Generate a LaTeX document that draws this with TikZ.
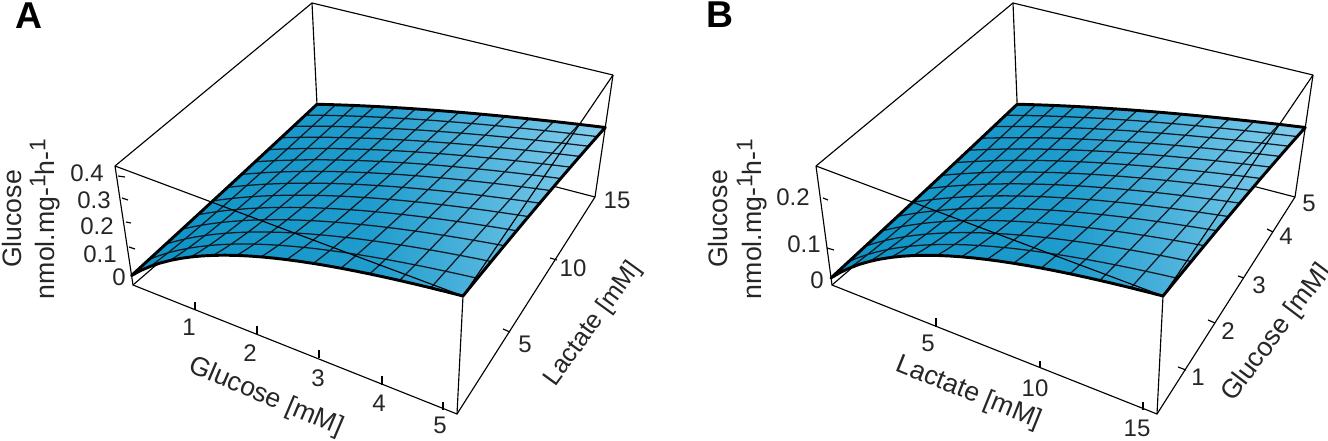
\documentclass[tikz,border=0pt]{standalone}
\usepackage{fontspec}
\setmainfont{Liberation Sans}
\definecolor{sfL}{HTML}{0C93C6}
\definecolor{sfM}{HTML}{1F9CCD}
\definecolor{sfR}{HTML}{86CFEE}
\definecolor{gridc}{HTML}{101A22}
\newcommand\sethom[9]{%
 \edef\hsx{\fpeval{#2-#4+#6-#8}}\edef\hsy{\fpeval{#3-#5+#7-#9}}%
 \edef\hdxa{\fpeval{#4-#6}}\edef\hdxb{\fpeval{#8-#6}}%
 \edef\hdya{\fpeval{#5-#7}}\edef\hdyb{\fpeval{#9-#7}}%
 \edef\hdet{\fpeval{\hdxa*\hdyb-\hdxb*\hdya}}%
 \edef\hg{\fpeval{(\hsx*\hdyb-\hdxb*\hsy)/\hdet}}%
 \edef\hh{\fpeval{(\hdxa*\hsy-\hsx*\hdya)/\hdet}}%
 \expandafter\edef\csname #1g\endcsname{\hg}%
 \expandafter\edef\csname #1h\endcsname{\hh}%
 \expandafter\edef\csname #1a\endcsname{\fpeval{#4-#2+\hg*#4}}%
 \expandafter\edef\csname #1b\endcsname{\fpeval{#8-#2+\hh*#8}}%
 \expandafter\edef\csname #1c\endcsname{#2}%
 \expandafter\edef\csname #1d\endcsname{\fpeval{#5-#3+\hg*#5}}%
 \expandafter\edef\csname #1e\endcsname{\fpeval{#9-#3+\hh*#9}}%
 \expandafter\edef\csname #1f\endcsname{#3}%
}
\newcommand\calcpt[2]{%
 \edef\uu{#1}\edef\vv{#2}%
 \edef\KK{\fpeval{\Kzero+\Klin*\vv+\Kone*\vv*\vv}}%
 \edef\zlo{\fpeval{\zA+\zB*\vv}}%
 \edef\zhi{\fpeval{1-\zC*\vv}}%
 \edef\ff{\fpeval{\uu*(1+\KK)/(\uu+\KK)}}%
 \edef\zz{\fpeval{\zlo+(\zhi-\zlo)*\ff}}%
 \edef\wg{\fpeval{\Gg*\uu+\Gh*\vv+1}}%
 \edef\wt{\fpeval{\Tg*\uu+\Th*\vv+1}}%
 \edef\ptx{\fpeval{round((1-\zz)*(\Ga*\uu+\Gb*\vv+\Gc)/\wg+\zz*(\Ta*\uu+\Tb*\vv+\Tc)/\wt,2)}}%
 \edef\pty{\fpeval{round((1-\zz)*(\Gd*\uu+\Ge*\vv+\Gf)/\wg+\zz*(\Td*\uu+\Te*\vv+\Tf)/\wt,2)}}%
}
\newcommand\addpt[2]{\calcpt{#1}{#2}\xdef\thepath{\thepath\thesep(\ptx,\pty)}\gdef\thesep{ -- }}
\newcommand\startpath{\gdef\thepath{}\gdef\thesep{}}
\newcommand\drawsurface{%
 \startpath
 \foreach \k in {0,...,26}{\addpt{\fpeval{\k/26}}{0}}%
 \foreach \k in {1,...,26}{\addpt{1}{\fpeval{\k/26}}}%
 \foreach \k in {25,...,0}{\addpt{\fpeval{\k/26}}{1}}%
 \foreach \k in {25,...,1}{\addpt{0}{\fpeval{\k/26}}}%
 \xdef\outlinepath{\thepath}%
 \path[left color=sfL,right color=sfR,middle color=sfM] \outlinepath -- cycle;
 \foreach \j in {1,...,12}{%
  \startpath
  \foreach \k in {0,...,26}{\addpt{\fpeval{\k/26}}{\fpeval{\j/13}}}%
  \draw[gridline] \thepath;
  \startpath
  \foreach \k in {0,...,26}{\addpt{\fpeval{\j/13}}{\fpeval{\k/26}}}%
  \draw[gridline] \thepath;
 }%
 \draw[rimline] \outlinepath -- cycle;
}
\tikzset{
 boxline/.style={black,line width=0.85pt},
 gridline/.style={gridc,line width=0.95pt,line join=round},
 rimline/.style={black,line width=2.2pt,line join=round},
 axlab/.style={font=\fontsize{18pt}{20pt}\selectfont,inner sep=0pt,text=black!85},
 axtitle/.style={font=\fontsize{20pt}{22pt}\selectfont,inner sep=0pt,text=black!85},
 axtitlesm/.style={font=\fontsize{19pt}{21pt}\selectfont,inner sep=0pt,text=black!85},
 panlab/.style={font=\fontsize{28pt}{30pt}\selectfont\bfseries,inner sep=0pt},
}
\newcommand\ylabtext{nmol.mg-\raisebox{0.35em}{\fontsize{17pt}{17pt}\selectfont 1}h-\raisebox{0.35em}{\fontsize{17pt}{17pt}\selectfont 1}}
\begin{document}
\begin{tikzpicture}[x=0.75pt,y=-0.75pt]
\useasboundingbox (0,0) rectangle (1328,440);
% ---------- Panel A
\coordinate (aG00) at (133,285);\coordinate (aG10) at (457,414);\coordinate (aG11) at (595,197);\coordinate (aG01) at (318,125);
\coordinate (aT00) at (115,166);\coordinate (aT10) at (463,296);\coordinate (aT11) at (613,75);\coordinate (aT01) at (312,3);
\draw[boxline] (aG00)--(aG01)--(aG11) (aT01)--(aG01);
\draw[boxline] (aT00)--(aT01)--(aT11);
\draw[boxline] (aT00)--(aG00)--(aG10)--(aG11)--(aT11);
\draw[boxline] (aG10)--(aT10);
\sethom{G}{133}{285}{457}{414}{595}{197}{318}{125}
\sethom{T}{115}{166}{463}{296}{613}{75}{312}{3}
\def\Kzero{0.8}\def\Klin{3.5}\def\Kone{2}\def\zA{0.08}\def\zB{0.09}\def\zC{0.43}
\drawsurface
\draw[boxline] (aT00)--(aT10)--(aT11);
\foreach \a/\b/\c/\d in {195/302/195/310,257/326/257/334,319/350/319/358,382/376/382/385,443/402/443/410,
 503/329/510/332,550/258/557/260,118/176/125/177,122/198/128/200,126/222/131/223,129/247/135/249}
 \draw[boxline] (\a,\b)--(\c,\d);
\node[panlab] (pa) at (29,16) {A};
\node[axtitle,rotate=90] (ay1) at (12,219) {Glucose};
\node[axtitle,rotate=90] (ay2) at (45,219) {\ylabtext};
\node[axlab] (az0) at (119,277) {0};
\node[axlab] (az1) at (100,254) {0.1};
\node[axlab] (az2) at (97,226) {0.2};
\node[axlab] (az3) at (94,200) {0.3};
\node[axlab] (az4) at (87,173) {0.4};
\node[axlab] (ax1) at (189,327) {1};
\node[axlab] (ax2) at (250,353) {2};
\node[axlab] (ax3) at (318,378) {3};
\node[axlab] (ax4) at (379,403) {4};
\node[axlab] (ax5) at (440,425) {5};
\node[axlab] (aw5) at (525,344) {5};
\node[axlab] (aw10) at (573,268) {10};
\node[axlab] (aw15) at (617,200) {15};
\node[axtitle,rotate=-23] (axt) at (266,397) {Glucose [mM]};
\node[axtitlesm,rotate=54] (awt) at (593,324) {Lactate [mM]};
% ---------- Panel B
\coordinate (bG00) at (832,285);\coordinate (bG10) at (1157,414);\coordinate (bG11) at (1295,197);\coordinate (bG01) at (1018,125);
\coordinate (bT00) at (816,166);\coordinate (bT10) at (1163,296);\coordinate (bT11) at (1313,75);\coordinate (bT01) at (1013,3);
\draw[boxline] (bG00)--(bG01)--(bG11) (bT01)--(bG01);
\draw[boxline] (bT00)--(bT01)--(bT11);
\draw[boxline] (bT00)--(bG00)--(bG10)--(bG11)--(bT11);
\draw[boxline] (bG10)--(bT10);
\sethom{G}{832}{285}{1157}{414}{1295}{197}{1018}{125}
\sethom{T}{816}{166}{1163}{296}{1313}{75}{1013}{3}
\def\Kzero{0.75}\def\Klin{3.5}\def\Kone{2}\def\zA{0.06}\def\zB{0.11}\def\zC{0.43}
\drawsurface
\draw[boxline] (bT00)--(bT10)--(bT11);
\foreach \a/\b/\c/\d in {936/318/936/327,1040/361/1040/368,1143/402/1143/410,
 1178/367/1186/370,1208/320/1215/323,1238/276/1244/278,1267/229/1273/232,827/248/834/250,823/198/828/200}
 \draw[boxline] (\a,\b)--(\c,\d);
\node[panlab] (pb) at (720,15) {B};
\node[axtitle,rotate=90] (by1) at (718,219) {Glucose};
\node[axtitle,rotate=90] (by2) at (752,219) {\ylabtext};
\node[axlab] (bz0) at (817,280) {0};
\node[axlab] (bz1) at (804,244) {0.1};
\node[axlab] (bz2) at (793,197) {0.2};
\node[axlab] (bx5) at (928,343) {5};
\node[axlab] (bx10) at (1035,388) {10};
\node[axlab] (bx15) at (1137,428) {15};
\node[axlab] (bw1) at (1198,377) {1};
\node[axlab] (bw2) at (1228,331) {2};
\node[axlab] (bw3) at (1259,285) {3};
\node[axlab] (bw4) at (1286,236) {4};
\node[axlab] (bw5) at (1309,203) {5};
\node[axtitle,rotate=-22] (bxt) at (969,393) {Lactate [mM]};
\node[axtitle,rotate=53] (bwt) at (1277,333) {Glucose [mM]};
\end{tikzpicture}
\end{document}
